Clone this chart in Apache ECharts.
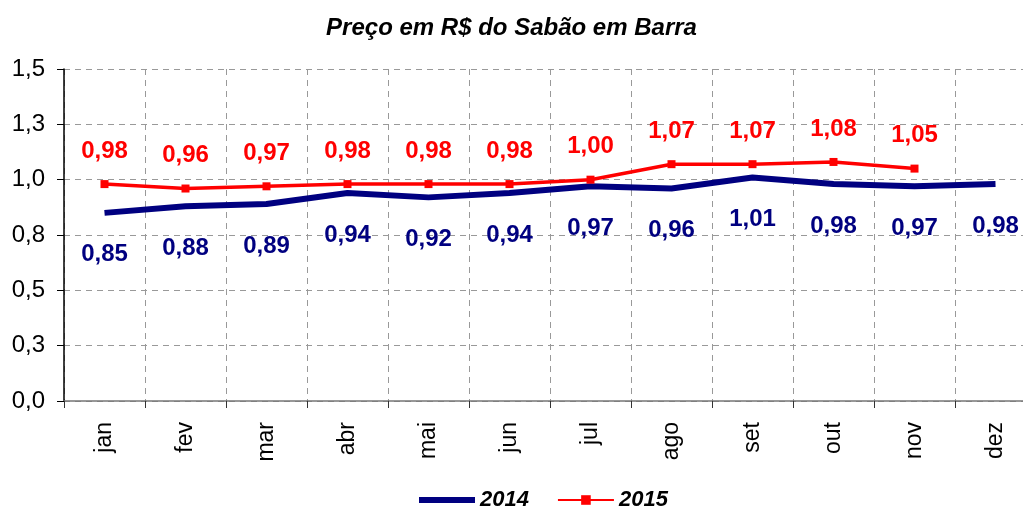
<!DOCTYPE html>
<html>
<head>
<meta charset="utf-8">
<script src="https://cdn.jsdelivr.net/npm/echarts@6/dist/echarts.min.js"></script>
<style>
  html, body { margin: 0; padding: 0; background: #fff; }
  #chart { width: 1023px; height: 511px; }
</style>
</head>
<body>
<div id="chart"></div>
<script>
// meses
const months = ['jan', 'fev', 'mar', 'abr', 'mai', 'jun', 'jul', 'ago', 'set', 'out', 'nov', 'dez']
// preços 2014 / 2015
const preco2014 = [0.85, 0.88, 0.89, 0.94, 0.92, 0.94, 0.97, 0.96, 1.01, 0.98, 0.97, 0.98]
const preco2015 = [0.98, 0.96, 0.97, 0.98, 0.98, 0.98, 1.00, 1.07, 1.07, 1.08, 1.05, null]

const comma = (v, d) => v.toFixed(d).replace('.', ',')

const myChart = echarts.init(document.getElementById('chart'))
const option = {
  animation: false,
  textStyle: { fontFamily: 'Liberation Sans, Arial, sans-serif' },
  title: {
    text: 'Preço em R$ do Sabão em Barra',
    left: 'center',
    top: 11,
    textStyle: { fontSize: 24, fontWeight: 'bold', fontStyle: 'italic', color: '#000' }
  },
  legend: {
    top: 484,
    left: 414,
    itemWidth: 56,
    itemHeight: 12,
    itemGap: 28,
    textStyle: { fontSize: 22, fontWeight: 'bold', fontStyle: 'italic', color: '#000' },
    data: [
      { name: '2014', icon: 'path://M0,0 H56 V6 H0 Z' },
      { name: '2015' }
    ]
  },
  grid: {
    left: 64,
    width: 972,
    top: 69,
    height: 332,
    outerBoundsMode: 'none'
  },
  xAxis: {
    type: 'category',
    data: months,
    boundaryGap: true,
    axisLine: { lineStyle: { color: '#777', width: 1.5 } },
    axisTick: { show: true, length: 7, lineStyle: { color: '#333' } },
    axisLabel: { rotate: 90, fontSize: 23, color: '#000', margin: 21 },
    splitLine: { show: true, interval: 0, lineStyle: { color: '#999', type: [6, 5] } }
  },
  yAxis: {
    type: 'value',
    min: 0,
    max: 1.5,
    interval: 0.25,
    axisLine: { show: true, lineStyle: { color: '#000', width: 1.5 } },
    axisTick: { show: true, length: 7, lineStyle: { color: '#000' } },
    axisLabel: { fontSize: 24, color: '#000', margin: 19, formatter: v => comma(v, 1) },
    splitLine: { show: true, lineStyle: { color: '#999', type: [6, 5] } }
  },
  series: [
    {
      name: '2014',
      type: 'line',
      data: preco2014,
      symbol: 'circle',
      symbolSize: 0,
      showSymbol: true,
      lineStyle: { color: '#000080', width: 6 },
      itemStyle: { color: '#000080' },
      label: {
        show: true,
        position: 'bottom',
        distance: 30,
        fontSize: 24,
        fontWeight: 'bold',
        color: '#000080',
        formatter: p => comma(p.value, 2)
      },
      z: 2
    },
    {
      name: '2015',
      type: 'line',
      data: preco2015,
      symbol: 'rect',
      symbolSize: 8,
      lineStyle: { color: '#ff0000', width: 3.5 },
      itemStyle: { color: '#ff0000' },
      label: {
        show: true,
        position: 'top',
        distance: 17,
        fontSize: 24,
        fontWeight: 'bold',
        color: '#ff0000',
        formatter: p => comma(p.value, 2)
      },
      z: 3
    }
  ]
}
myChart.setOption(option)
</script>
</body>
</html>
